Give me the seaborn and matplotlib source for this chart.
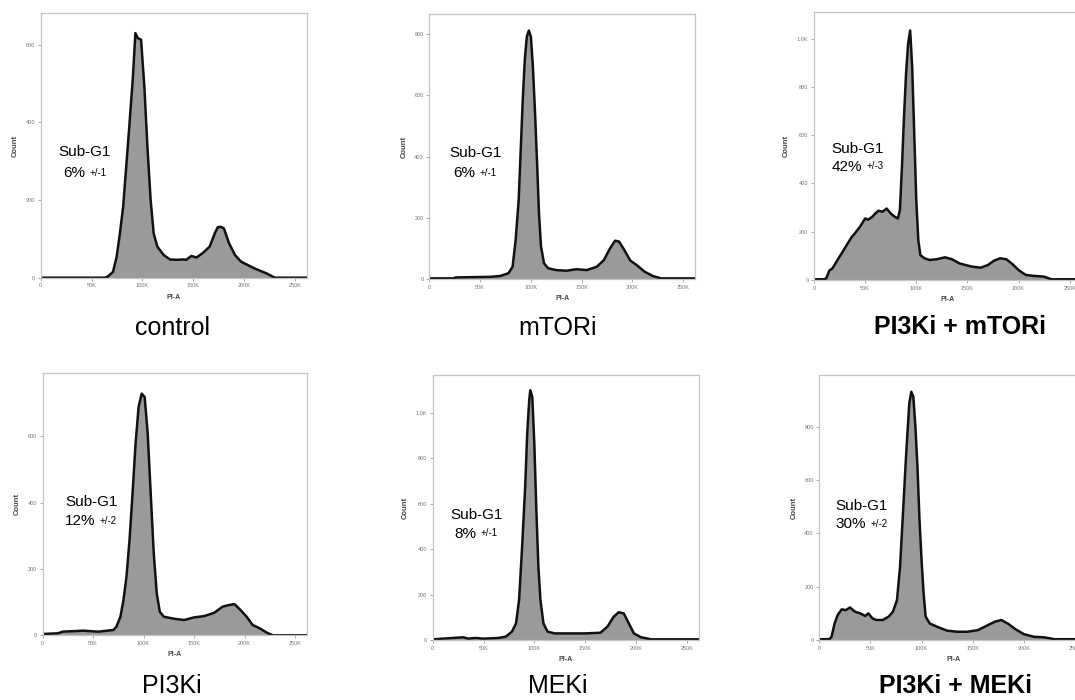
import pandas as pd
import seaborn as sns
import matplotlib.pyplot as plt
from matplotlib.ticker import FuncFormatter

sns.set_style('white')
plt.rcParams['font.family'] = ['Liberation Sans', 'DejaVu Sans']
plt.rcParams['text.color'] = 'black'

# PI-A (in K) and counts
control_pi = [0, 63, 66, 71, 74.6, 77.8, 81, 84, 87, 90.6, 93, 95.4, 98.6, 101.8, 105, 108, 111,
              114.6, 121, 127, 134, 140, 143, 148, 153, 159, 166, 171, 174, 177, 180, 185, 191,
              197, 210, 222, 230, 262]
control_count = [0, 0, 3, 15, 54, 114, 183, 286, 389, 518, 630, 617, 613, 493, 329, 200, 114,
                 80, 58, 47, 46, 47, 46, 56, 52, 63, 80, 114, 130, 131, 127, 89, 58,
                 41, 24, 11, 0, 0]

mtor_pi = [0, 24, 26, 60, 70, 78, 82, 85, 88, 90, 92, 94, 96, 98, 100, 102, 104, 106, 108, 110,
           113, 117, 125, 135, 145, 155, 165, 172, 178, 183, 187, 192, 198, 204, 212, 220, 228, 262]
mtor_count = [3, 3, 6, 8, 11, 20, 41, 128, 259, 422, 585, 716, 792, 812, 792, 694, 553, 390, 215, 107,
              52, 36, 30, 28, 33, 30, 41, 63, 101, 126, 123, 96, 61, 47, 25, 11, 3, 3]

pi3k_mtor_pi = [0, 10, 12, 15, 18, 22, 27, 32, 37, 40, 45, 50, 53, 57, 60, 63, 67, 71, 75, 79, 82,
                84, 86, 88, 90, 92, 94, 96, 98, 100, 102, 104, 108, 113, 120, 128, 135, 142, 148,
                155, 163, 170, 176, 182, 188, 194, 200, 207, 215, 225, 232, 262]
pi3k_mtor_count = [3, 3, 7, 39, 48, 76, 110, 145, 179, 193, 221, 255, 250, 262, 276, 287, 283, 296,
                   276, 262, 255, 290, 469, 676, 855, 979, 1034, 883, 607, 331, 165, 103, 90, 83,
                   86, 94, 86, 69, 62, 55, 51, 62, 80, 90, 86, 66, 41, 21, 17, 14, 3, 3]

pi3k_pi = [0, 15, 20, 40, 55, 70, 73, 77, 80, 83, 86, 89, 92, 95, 98, 101, 104, 107, 110, 113, 116,
           120, 130, 140, 150, 160, 170, 178, 184, 190, 196, 202, 208, 215, 222, 228, 262]
pi3k_count = [4, 6, 11, 14, 11, 16, 26, 56, 106, 177, 287, 427, 578, 688, 728, 718, 608, 427, 247,
              126, 71, 56, 50, 46, 54, 58, 68, 86, 91, 94, 76, 56, 31, 21, 8, 0, 0]

mek_pi = [0, 30, 35, 42, 50, 65, 72, 78, 82, 85, 88, 91, 93, 95, 96, 98, 100, 102, 104, 106, 109,
          113, 120, 135, 150, 165, 172, 178, 183, 188, 193, 198, 205, 215, 262]
mek_count = [3, 12, 6, 9, 6, 9, 15, 37, 73, 176, 410, 673, 908, 1054, 1098, 1069, 864, 571, 322,
             176, 73, 37, 29, 29, 29, 32, 59, 102, 122, 117, 73, 29, 12, 3, 3]

pi3k_mek_pi = [0, 10, 12, 15, 18, 22, 26, 30, 35, 40, 45, 48, 52, 56, 62, 68, 72, 76, 79, 82, 85,
               88, 90, 92, 94, 96, 98, 100, 102, 104, 108, 115, 125, 135, 145, 155, 165, 172, 178,
               185, 192, 200, 210, 220, 230, 262]
pi3k_mek_count = [3, 3, 12, 62, 94, 115, 112, 122, 106, 100, 90, 100, 81, 75, 75, 88, 106, 150, 275,
                  487, 700, 887, 931, 912, 800, 650, 450, 300, 175, 88, 62, 50, 35, 31, 31, 37,
                  56, 69, 75, 60, 40, 22, 12, 10, 3, 3]

titles = ['control', 'mTORi', 'PI3Ki + mTORi', 'PI3Ki', 'MEKi', 'PI3Ki + MEKi']
subg1 = ['6%', '6%', '42%', '12%', '8%', '30%']
subg1_err = ['+/-1', '+/-1', '+/-3', '+/-2', '+/-1', '+/-2']
y_max = [681, 866, 1111, 791, 1165, 994]
y_ticks = [[0, 200, 400, 600], [0, 200, 400, 600, 800], [0, 200, 400, 600, 800, 1000],
           [0, 200, 400, 600], [0, 200, 400, 600, 800, 1000], [0, 200, 400, 600, 800]]
x_ticks = [0, 50, 100, 150, 200, 250]

panels = [(control_pi, control_count), (mtor_pi, mtor_count), (pi3k_mtor_pi, pi3k_mtor_count),
          (pi3k_pi, pi3k_count), (mek_pi, mek_count), (pi3k_mek_pi, pi3k_mek_count)]

# axes boxes in figure fractions, text anchors in axes fractions
rects = [[0.0379, 0.6033, 0.248, 0.3777], [0.3994, 0.601, 0.2474, 0.379],
         [0.7572, 0.600, 0.2493, 0.383], [0.0397, 0.0924, 0.2461, 0.3751],
         [0.4025, 0.0857, 0.2477, 0.3786], [0.7621, 0.0857, 0.2493, 0.3786]]
label_xy = [(0.066, 0.475, 0.085, 0.395), (0.075, 0.477, 0.09, 0.40),
            (0.066, 0.49, 0.066, 0.422), (0.084, 0.509, 0.084, 0.435),
            (0.065, 0.472, 0.08, 0.40), (0.061, 0.507, 0.061, 0.437)]
title_xy = [(172.5, 335), (557.7, 335), (960.5, 334), (171.7, 693), (558, 693), (955.7, 693)]


def k_fmt(v, pos):
    if v == 0:
        return '0'
    return '%dK' % v


def y_fmt(v, pos):
    if v >= 1000:
        return '%.1fK' % (v / 1000)
    return '%d' % v


fig = plt.figure(figsize=(10.75, 7), dpi=100)

for i, (xs, ys) in enumerate(panels):
    ax = fig.add_axes(rects[i])
    df = pd.DataFrame({'PI-A': xs, 'Count': ys})
    ax.fill_between(df['PI-A'], df['Count'], color='#9a9a9a', lw=0)
    sns.lineplot(data=df, x='PI-A', y='Count', ax=ax, color='#111111', lw=1.8)
    ax.set_xlim(0, 262)
    ax.set_ylim(0, y_max[i])
    ax.set_xticks(x_ticks)
    ax.set_yticks(y_ticks[i])
    ax.xaxis.set_major_formatter(FuncFormatter(k_fmt))
    ax.yaxis.set_major_formatter(FuncFormatter(y_fmt))
    ax.tick_params(axis='both', direction='out', length=2, width=0.6, colors='#999999',
                   labelsize=4, labelcolor='#777777', pad=2)
    ax.tick_params(left=True, bottom=True)
    for s in ax.spines.values():
        s.set_color('#c4c4c4')
        s.set_linewidth(0.9)
    ax.set_xlabel('PI-A', fontsize=5, fontweight='bold', color='#444444', labelpad=4)
    ax.set_ylabel('Count', fontsize=5.5, fontweight='bold', color='#444444', labelpad=5)

    lx, ly, px, py = label_xy[i]
    ax.text(lx, ly, 'Sub-G1', transform=ax.transAxes, fontsize=11, ha='left', va='center')
    t = ax.text(px, py, subg1[i], transform=ax.transAxes, fontsize=11, ha='left', va='center')
    ax.annotate(subg1_err[i], xy=(1, 0.18), xycoords=t, xytext=(3, 0), textcoords='offset points',
                fontsize=7, ha='left', va='bottom')

    cx, cy = title_xy[i]
    bold = '+' in titles[i]
    fig.text(cx / 1075, 1 - cy / 700, titles[i], fontsize=18, ha='center', va='baseline',
             fontweight='bold' if bold else 'normal')

fig.savefig('out.png', dpi=100)
